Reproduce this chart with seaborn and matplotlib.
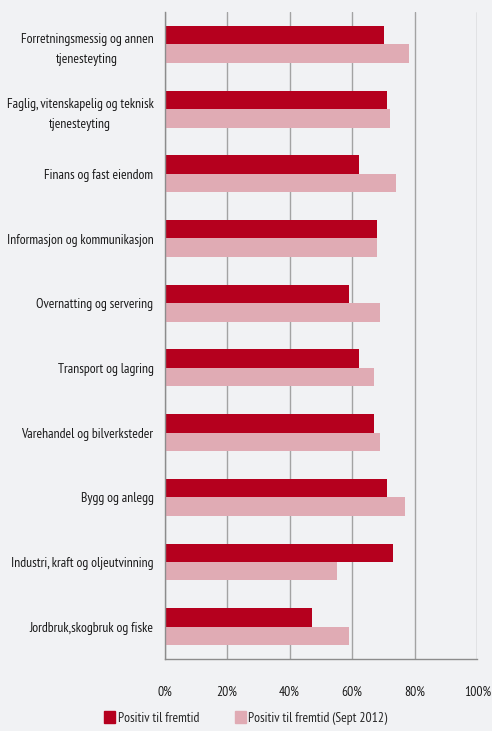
import numpy as np
import pandas as pd
import matplotlib
matplotlib.use("Agg")
import matplotlib.pyplot as plt
import seaborn as sns
from matplotlib.ticker import FixedLocator, PercentFormatter

categories = [
    "Forretningsmessig og annen\ntjenesteyting",
    "Faglig, vitenskapelig og teknisk\ntjenesteyting",
    "Finans og fast eiendom",
    "Informasjon og kommunikasjon",
    "Overnatting og servering",
    "Transport og lagring",
    "Varehandel og bilverksteder",
    "Bygg og anlegg",
    "Industri, kraft og oljeutvinning",
    "Jordbruk,skogbruk og fiske",
]
positiv = [70, 71, 62, 68, 59, 62, 67, 71, 73, 47]
positiv_2012 = [78, 72, 74, 68, 69, 67, 69, 77, 55, 59]
series = ["Positiv til fremtid", "Positiv til fremtid (Sept 2012)"]
colors = ["#b5001e", "#e0abb4"]

df = pd.DataFrame({
    "bransje": categories * 2,
    "andel": positiv + positiv_2012,
    "serie": [series[0]] * len(categories) + [series[1]] * len(categories),
})

sns.set_style("white")
plt.rcParams["font.family"] = ["PT Sans Narrow", "DejaVu Sans"]
fs = 9.8

bg = "#f1f2f4"
fig = plt.figure(figsize=(4.92, 7.31), dpi=100)
fig.patch.set_facecolor(bg)
ax = fig.add_axes([0.3344, 0.0985, 0.636, 0.885])
ax.set_facecolor(bg)

sns.barplot(data=df, x="andel", y="bransje", hue="serie", orient="h",
            palette=colors, width=0.57, ax=ax, saturation=1,
            order=categories, hue_order=series, linewidth=0)

ax.set_xlim(0, 100)
ax.set_ylim(len(categories) - 0.5, -0.5)
ax.xaxis.set_major_locator(FixedLocator([0, 20, 40, 60, 80, 100]))
ax.xaxis.set_major_formatter(PercentFormatter(decimals=0))
ax.grid(axis="x", color="#a3a3a3", lw=1)
ax.set_axisbelow(True)
ax.set_xlabel("")
ax.set_ylabel("")

# category boundaries carry the tick marks, labels sit between them
ax.yaxis.set_minor_locator(FixedLocator(np.arange(-0.5, len(categories), 1.0)))
ax.tick_params(axis="y", which="major", length=0, pad=8, labelsize=fs,
               labelcolor="#1a1a1a")
ax.tick_params(axis="y", which="minor", length=4, color="#8c8c8c", width=1)
ax.tick_params(axis="x", length=4, color="#8c8c8c", width=1, pad=15,
               labelsize=fs, labelcolor="#1a1a1a")
for lbl in ax.get_yticklabels():
    lbl.set_multialignment("center")
    lbl.set_linespacing(1.75)

for side in ["top", "right"]:
    ax.spines[side].set_visible(False)
for side in ["left", "bottom"]:
    ax.spines[side].set_color("#8c8c8c")
    ax.spines[side].set_linewidth(1)

ax.legend_.remove()
handles = [plt.Rectangle((0, 0), 1, 1, color=c) for c in colors]
fig.legend(handles, series, loc="center", bbox_to_anchor=(0.5, 0.018),
           ncol=2, frameon=False, fontsize=fs, handlelength=0.8,
           handleheight=1.0, handletextpad=0.2, columnspacing=2.6)

fig.savefig("out.png", dpi=100, facecolor=fig.get_facecolor())
